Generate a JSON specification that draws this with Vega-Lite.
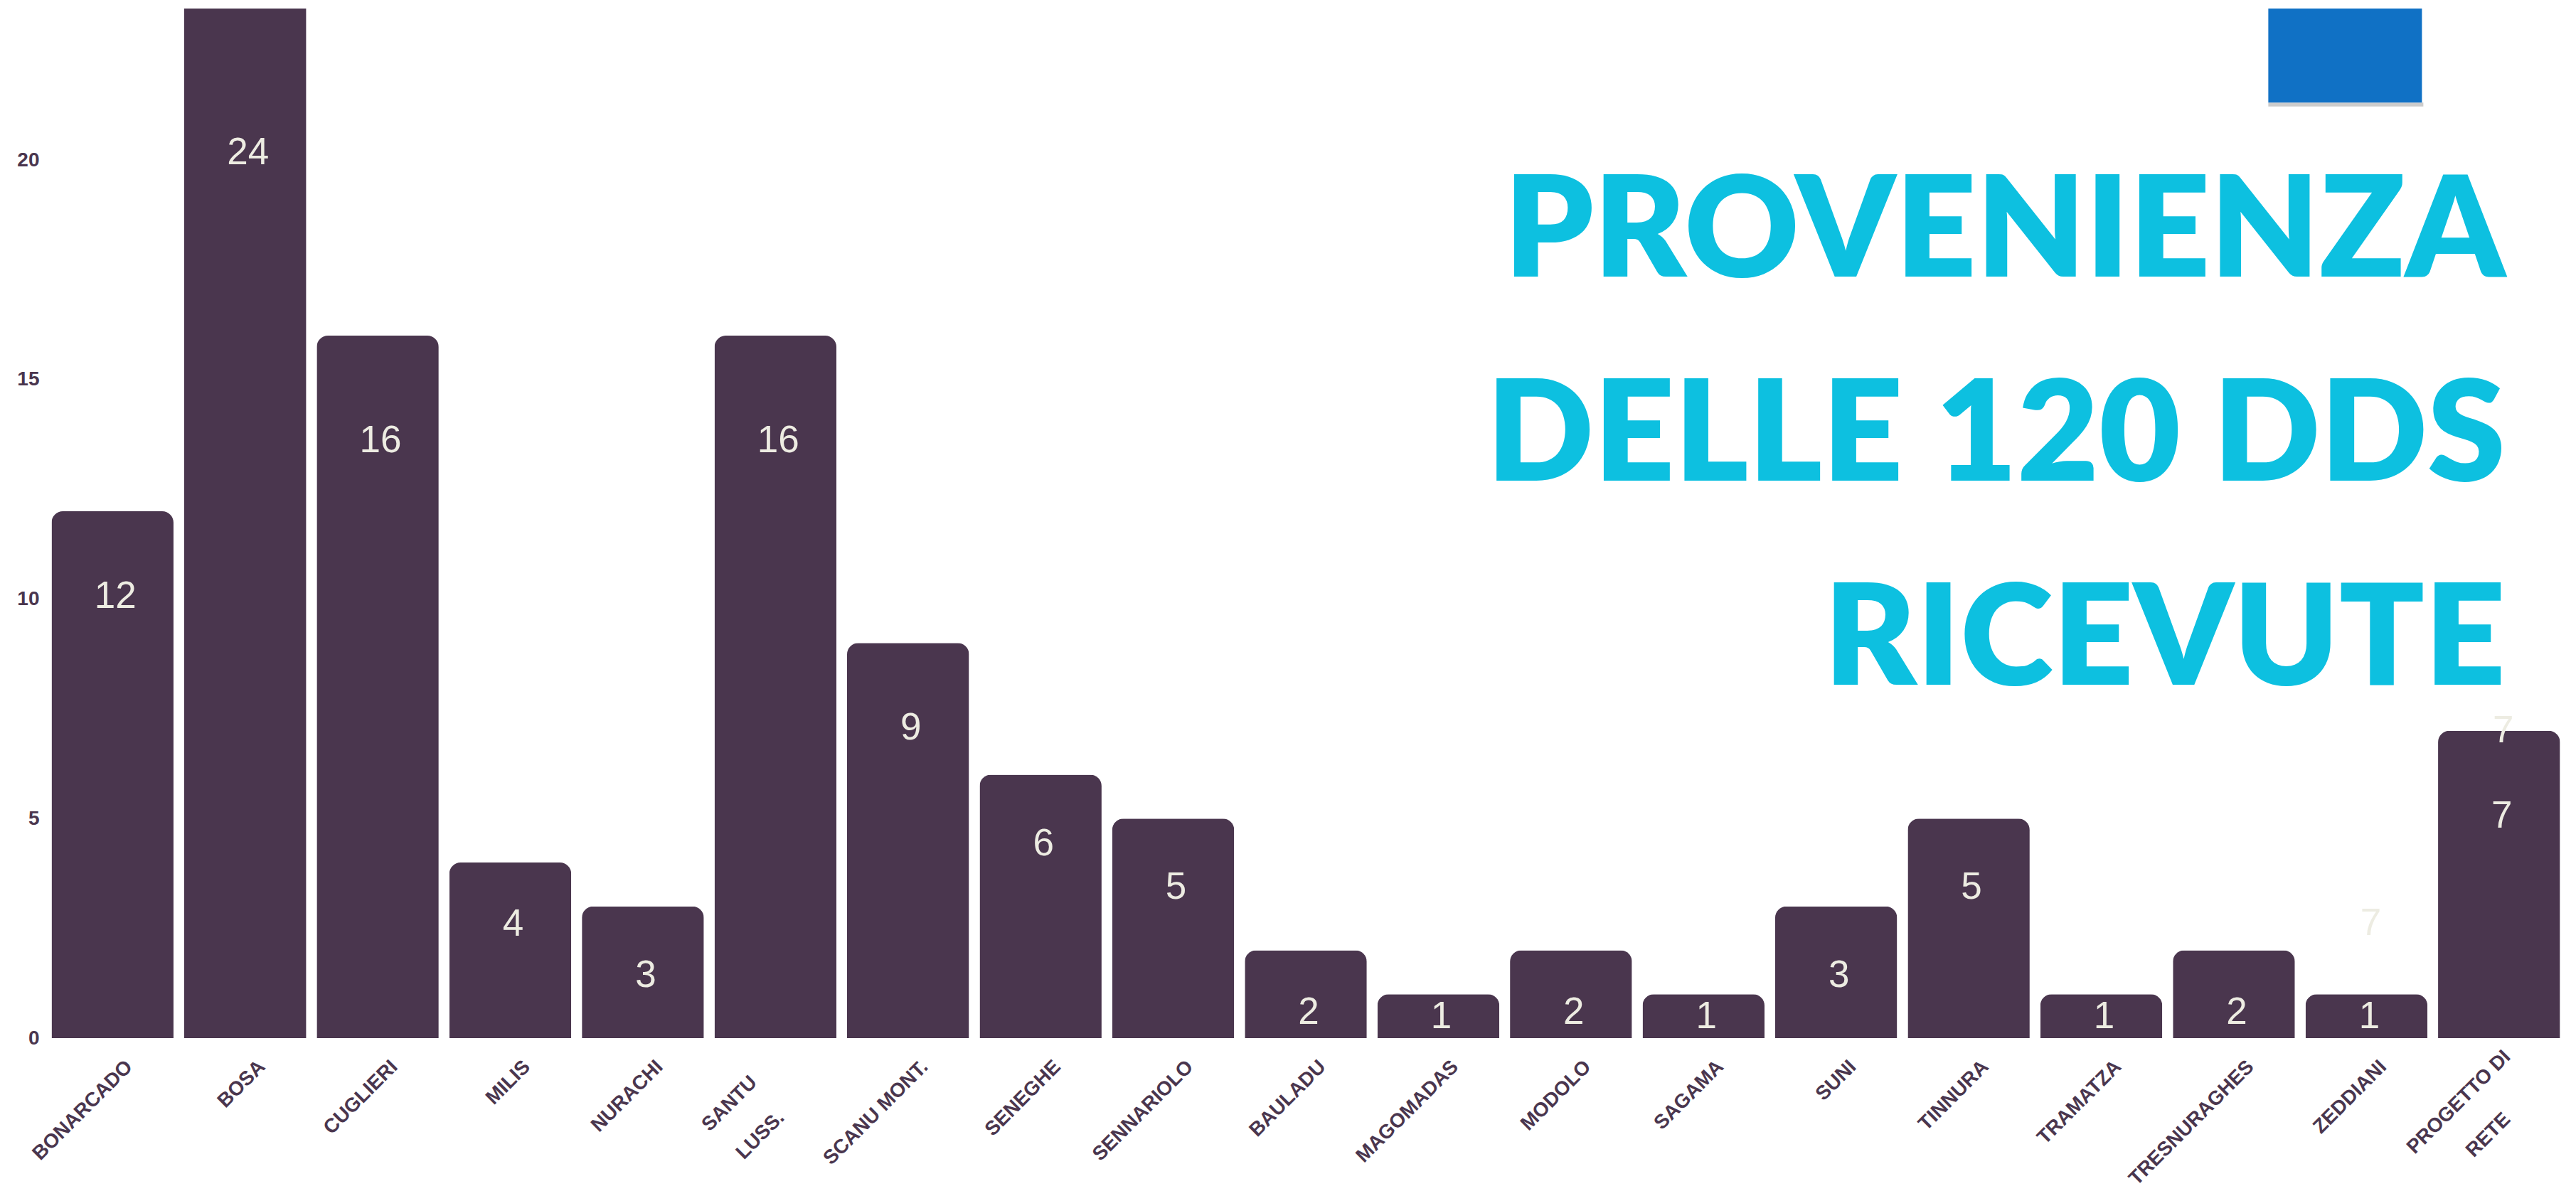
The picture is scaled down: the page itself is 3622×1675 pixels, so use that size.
{
  "$schema": "https://vega.github.io/schema/vega-lite/v6.json",
  "width": 3542,
  "height": 1448,
  "autosize": "none",
  "padding": {"left": 65, "top": 12, "right": 15, "bottom": 215},
  "background": "#ffffff",
  "config": {"view": {"stroke": null}},
  "datasets": {
    "main": [
      {"c": "BONARCADO", "n": 12},
      {"c": "BOSA", "n": 24},
      {"c": "CUGLIERI", "n": 16},
      {"c": "MILIS", "n": 4},
      {"c": "NURACHI", "n": 3},
      {"c": "SANTU LUSS.", "n": 16},
      {"c": "SCANU MONT.", "n": 9},
      {"c": "SENEGHE", "n": 6},
      {"c": "SENNARIOLO", "n": 5},
      {"c": "BAULADU", "n": 2},
      {"c": "MAGOMADAS", "n": 1},
      {"c": "MODOLO", "n": 2},
      {"c": "SAGAMA", "n": 1},
      {"c": "SUNI", "n": 3},
      {"c": "TINNURA", "n": 5},
      {"c": "TRAMATZA", "n": 1},
      {"c": "TRESNURAGHES", "n": 2},
      {"c": "ZEDDIANI", "n": 1},
      {"c": "PROGETTO DI RETE", "n": 7}
    ],
    "ghost": [
      {"c": "ZEDDIANI", "n": 2.6, "t": "7"},
      {"c": "PROGETTO DI RETE", "n": 7.0, "t": "7"}
    ],
    "box": [{"c": "ZEDDIANI"}],
    "ttl": [{"c": "PROGETTO DI RETE"}]
  },
  "data": {"name": "main"},
  "layer": [
    {
      "transform": [{"filter": "datum.n <= 23"}],
      "mark": {"type": "bar", "fill": "#4a364e", "cornerRadiusTopLeft": 16, "cornerRadiusTopRight": 16},
      "encoding": {
        "x": {
          "field": "c", "type": "nominal",
          "scale": {"domain": ["BONARCADO", "BOSA", "CUGLIERI", "MILIS", "NURACHI", "SANTU LUSS.", "SCANU MONT.", "SENEGHE", "SENNARIOLO", "BAULADU", "MAGOMADAS", "MODOLO", "SAGAMA", "SUNI", "TINNURA", "TRAMATZA", "TRESNURAGHES", "ZEDDIANI", "PROGETTO DI RETE"], "paddingInner": 0.08, "paddingOuter": 0.04},
          "axis": {
            "title": null, "domain": false, "ticks": false,
            "labelAngle": -45, "labelAlign": "right", "labelBaseline": "top",
            "labelPadding": {"condition": [
              {"test": "datum.label == 'SANTU LUSS.'", "value": 48},
              {"test": "datum.label == 'PROGETTO DI RETE'", "value": 12}
            ], "value": 26},
            "labelOffset": {"condition": [
              {"test": "datum.label == 'SANTU LUSS.'", "value": -40},
              {"test": "datum.label == 'PROGETTO DI RETE'", "value": 2}
            ], "value": 14},
            "labelFont": "Liberation Sans", "labelFontWeight": "bold",
            "labelFontSize": 28, "labelColor": "#4a364e", "labelLimit": 0,
            "labelOverlap": false, "labelBound": false, "labelLineHeight": 62,
            "labelExpr": "datum.label == 'SANTU LUSS.' ? ['SANTU', 'LUSS.\u00a0\u200b'] : (datum.label == 'PROGETTO DI RETE' ? ['PROGETTO DI', 'RETE\u00a0\u00a0\u00a0\u00a0\u00a0\u00a0\u00a0\u00a0\u200b'] : datum.label)"
          }
        },
        "y": {
          "field": "n", "type": "quantitative",
          "scale": {"domain": [0, 23.45], "nice": false, "zero": true, "clamp": true},
          "axis": {
            "title": null, "domain": false, "ticks": false, "grid": false,
            "values": [0, 5, 10, 15, 20], "format": "d", "labelPadding": 10,
            "labelFont": "Liberation Sans", "labelFontWeight": "bold",
            "labelFontSize": 28, "labelColor": "#4a364e"
          }
        }
      }
    },
    {
      "transform": [{"filter": "datum.n > 23"}],
      "mark": {"type": "bar", "fill": "#4a364e"},
      "encoding": {"x": {"field": "c", "type": "nominal"}, "y": {"field": "n", "type": "quantitative"}}
    },
    {
      "transform": [{"filter": "datum.n == 24"}],
      "mark": {"type": "text", "font": "Liberation Sans", "fontSize": 53, "color": "#edece2", "baseline": "middle", "dy": 203, "dx": 4},
      "encoding": {"x": {"field": "c", "type": "nominal"}, "y": {"field": "n", "type": "quantitative"}, "text": {"field": "n"}}
    },
    {
      "transform": [{"filter": "datum.n == 16"}],
      "mark": {"type": "text", "font": "Liberation Sans", "fontSize": 53, "color": "#edece2", "baseline": "middle", "dy": 148, "dx": 4},
      "encoding": {"x": {"field": "c", "type": "nominal"}, "y": {"field": "n", "type": "quantitative"}, "text": {"field": "n"}}
    },
    {
      "transform": [{"filter": "datum.n == 12 || datum.n == 9 || datum.n == 7"}],
      "mark": {"type": "text", "font": "Liberation Sans", "fontSize": 53, "color": "#edece2", "baseline": "middle", "dy": 120, "dx": 4},
      "encoding": {"x": {"field": "c", "type": "nominal"}, "y": {"field": "n", "type": "quantitative"}, "text": {"field": "n"}}
    },
    {
      "transform": [{"filter": "datum.n == 6 || datum.n == 5 || datum.n == 3"}],
      "mark": {"type": "text", "font": "Liberation Sans", "fontSize": 53, "color": "#edece2", "baseline": "middle", "dy": 97, "dx": 4},
      "encoding": {"x": {"field": "c", "type": "nominal"}, "y": {"field": "n", "type": "quantitative"}, "text": {"field": "n"}}
    },
    {
      "transform": [{"filter": "datum.n == 4 || datum.n == 2"}],
      "mark": {"type": "text", "font": "Liberation Sans", "fontSize": 53, "color": "#edece2", "baseline": "middle", "dy": 87, "dx": 4},
      "encoding": {"x": {"field": "c", "type": "nominal"}, "y": {"field": "n", "type": "quantitative"}, "text": {"field": "n"}}
    },
    {
      "transform": [{"filter": "datum.n == 1"}],
      "mark": {"type": "text", "font": "Liberation Sans", "fontSize": 53, "color": "#edece2", "baseline": "middle", "dy": 32, "dx": 4},
      "encoding": {"x": {"field": "c", "type": "nominal"}, "y": {"field": "n", "type": "quantitative"}, "text": {"field": "n"}}
    },
    {
      "data": {"name": "ghost"},
      "mark": {"type": "text", "font": "Liberation Sans", "fontSize": 53, "color": "#edece2", "baseline": "middle", "dx": 6},
      "encoding": {"x": {"field": "c", "type": "nominal"}, "y": {"field": "n", "type": "quantitative"}, "text": {"field": "t"}}
    },
    {
      "data": {"name": "box"},
      "mark": {"type": "rect", "fill": "#9a9a9a", "opacity": 0.5, "width": 218, "xOffset": -29},
      "encoding": {
        "x": {"field": "c", "type": "nominal"},
        "y": {"datum": 21.31},
        "y2": {"datum": 21.22}
      }
    },
    {
      "data": {"name": "box"},
      "mark": {"type": "rect", "fill": "#1071c5", "width": 216, "xOffset": -30},
      "encoding": {
        "x": {"field": "c", "type": "nominal"},
        "y": {"datum": 23.45},
        "y2": {"datum": 21.31}
      }
    },
    {
      "data": {"name": "ttl"},
      "mark": {"type": "text", "font": "Lato", "fontWeight": 800, "fontSize": 198, "color": "#0dc0e0", "align": "right", "baseline": "alphabetic", "lineHeight": 287, "dx": 9},
      "encoding": {
        "x": {"field": "c", "type": "nominal"},
        "y": {"datum": 17.34},
        "text": {"value": ["PROVENIENZA", "DELLE 120 DDS", "RICEVUTE"]}
      }
    }
  ]
}
